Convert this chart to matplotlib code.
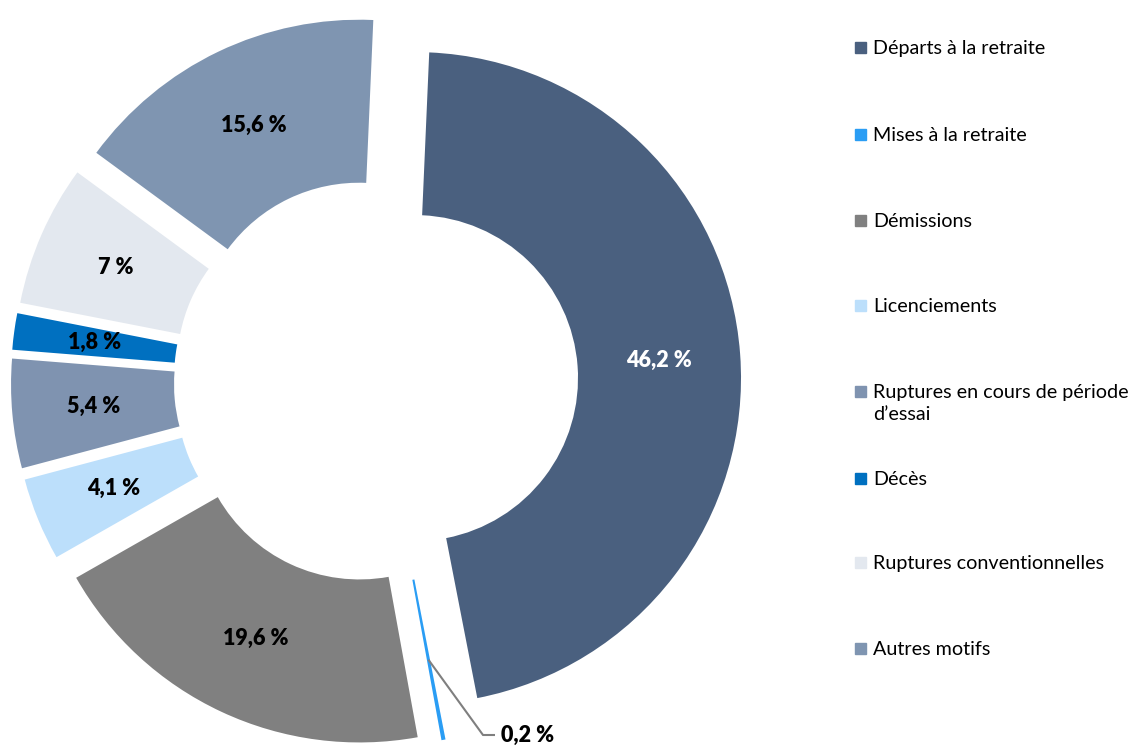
import matplotlib.pyplot as plt
import numpy as np

plt.rcParams['font.family'] = ['Lato', 'DejaVu Sans']

motifs = ['Départs à la retraite', 'Mises à la retraite', 'Démissions', 'Licenciements',
          'Ruptures en cours de période\nd\u2019essai', 'Décès', 'Ruptures conventionnelles',
          'Autres motifs']
parts = [46.2, 0.2, 19.6, 4.1, 5.4, 1.8, 7.0, 15.6]
labels = ['46,2 %', '0,2 %', '19,6 %', '4,1 %', '5,4 %', '1,8 %', '7 %', '15,6 %']
colors = ['#4A607F', '#2A9DF4', '#808080', '#BCDFFB', '#7F93B0', '#0070C0', '#E3E8EF', '#7F95B1']
label_colors = ['white', 'black', 'black', 'black', 'black', 'black', 'black', 'black']

W, H = 1131, 746
fig = plt.figure(figsize=(W / 100, H / 100), dpi=100)
ax = fig.add_axes([0, 0, 1, 1])

R = 326.0      # outer radius in px
cx, cy = 376, H - 381

wedges, _ = ax.pie(parts, colors=colors, startangle=87.5, counterclock=False,
                   explode=[0.12] * len(parts), radius=1.0,
                   wedgeprops=dict(width=0.5, linewidth=0))

ax.set_aspect('auto')
ax.set_xlim(-cx / R, (W - cx) / R)
ax.set_ylim(-cy / R, (H - cy) / R)
ax.axis('off')

for w, lab, lc in zip(wedges, labels, label_colors):
    th = np.deg2rad((w.theta1 + w.theta2) / 2)
    x0, y0 = w.center
    px, py = x0 + 0.75 * np.cos(th), y0 + 0.75 * np.sin(th)
    if lab == '0,2 %':
        # leader line for the tiny slice
        ex, ey = (483 - cx) / R, (H - 735 - cy) / R
        ax.plot([px, ex, ex + 12 / R], [py, ey, ey], color='#7F7F7F', lw=1.5,
                solid_capstyle='butt')
        ax.text(ex + 18 / R, ey, lab, ha='left', va='center', fontsize=15.5,
                fontweight='heavy', color=lc)
    else:
        ax.text(px, py, lab, ha='center', va='center', fontsize=15.5,
                fontweight='heavy', color=lc)

# legend
leg_y = [48, 135, 221, 306, 392, 479, 563, 649]
for m, c, y in zip(motifs, colors, leg_y):
    fig.patches.append(plt.Rectangle((855 / W, 1 - (y + 5) / H), 11 / W, 11 / H,
                                     transform=fig.transFigure, color=c))
    fig.text(873 / W, 1 - (y - 8) / H, m, ha='left', va='top', fontsize=14.2,
             linespacing=1.35)

fig.savefig('out.png', dpi=100)
